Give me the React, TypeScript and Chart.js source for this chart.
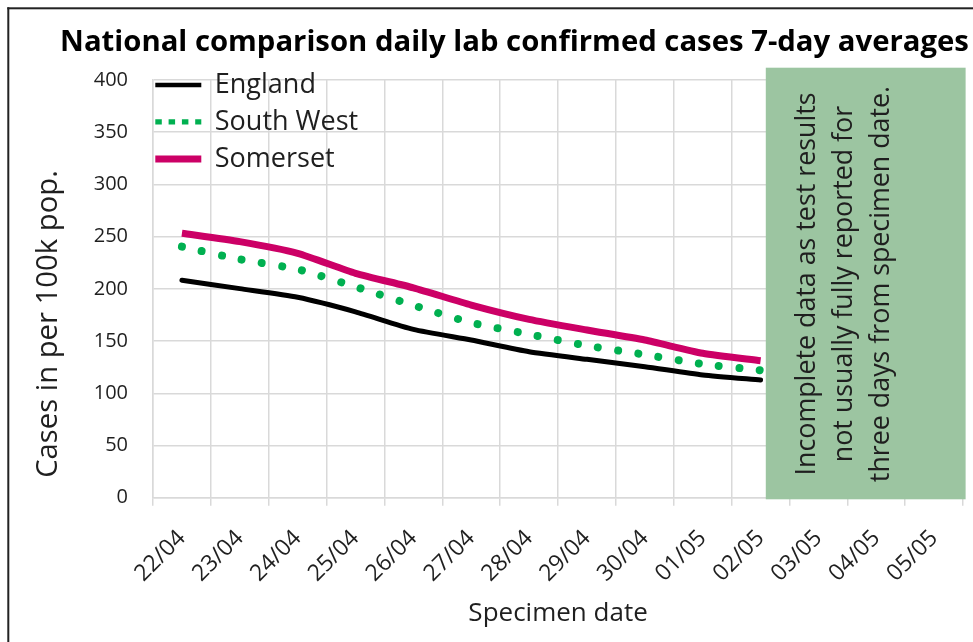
import React, { useEffect, useRef } from 'react';
import { Chart, registerables } from 'chart.js';

Chart.register(...registerables);

const FONT = '"Open Sans", "Noto Sans", sans-serif';

// ---- data ----
const DATES = ['22/04', '23/04', '24/04', '25/04', '26/04', '27/04', '28/04', '29/04', '30/04', '01/05', '02/05', '03/05', '04/05', '05/05'];
const ENGLAND = [208.3, 200.2, 191.9, 178, 161.2, 151, 139.8, 132.5, 125.5, 117.5, 112.7];
const SOUTH_WEST = [240.4, 228.3, 218.7, 202, 184.2, 167.6, 156.5, 145.6, 137, 128, 122];
const SOMERSET = [253.2, 245.2, 234, 214.9, 201, 184.5, 170.8, 160.6, 151, 138.3, 131.2];
const SERIES_NAMES = ['England', 'South West', 'Somerset'];
const Y_MIN = 0;
const Y_MAX = 400;
const Y_STEP = 50;

const TITLE = 'National comparison daily lab confirmed cases 7-day averages';
const Y_TITLE = 'Cases in per 100k pop.';
const X_TITLE = 'Specimen date';
const NOTE_LINES = ['Incomplete data as test results', 'not usually fully reported for', 'three days from specimen date.'];
const NOTE_FROM_INDEX = 10; // shaded note starts just after 02/05

const C_ENGLAND = '#000000';
const C_SW = '#00B050';
const C_SOM = '#CC0066';
const C_GRID = '#D9D9D9';
const C_TEXT = '#1f1f1f';
const C_NOTE = '#9CC5A1';

function fitSize(ctx: CanvasRenderingContext2D, text: string, weight: string, width: number) {
  ctx.font = `${weight} 100px ${FONT}`;
  return (100 * width) / ctx.measureText(text).width;
}

export default function App() {
  const ref = useRef<HTMLCanvasElement>(null);

  useEffect(() => {
    const canvas = ref.current!;
    const decor = {
      id: 'decor',
      afterLayout(chart: any) {
        const lg = chart.legend;
        const ca = chart.chartArea;
        if (!lg) return;
        lg.left = ca.left - 7.7;
        lg.top = ca.top - 18.6;
        lg.right = lg.left + lg.width;
        lg.bottom = lg.top + lg.height;
      },
      beforeDraw(chart: any) {
        const ctx = chart.ctx;
        ctx.save();
        ctx.fillStyle = '#ffffff';
        ctx.fillRect(0, 0, chart.width, chart.height);
        ctx.fillStyle = '#222222';
        ctx.fillRect(7.3, 7.3, 2, chart.height);
        ctx.fillRect(7.3, 7.3, chart.width, 2);
        ctx.restore();
      },
      afterDatasetsDraw(chart: any) {
        const { ctx, chartArea: ca } = chart;
        const x = chart.scales.x;
        const y = chart.scales.y;
        const step = x.getPixelForValue(1) - x.getPixelForValue(0);
        const left = x.getPixelForValue(NOTE_FROM_INDEX) + 0.09 * step;
        const right = ca.right + 2.5;
        const top = y.getPixelForValue(Y_MAX) - 12.3;
        const bottom = ca.bottom + 1.6;
        ctx.save();
        ctx.fillStyle = C_NOTE;
        ctx.fillRect(left, top, right - left, bottom - top);
        const size = fitSize(ctx, NOTE_LINES[0], 'normal', 383);
        ctx.font = `normal ${size}px ${FONT}`;
        ctx.fillStyle = C_TEXT;
        ctx.textAlign = 'center';
        ctx.textBaseline = 'alphabetic';
        const cy = (top + bottom) / 2 + 0.5;
        NOTE_LINES.forEach((t, i) => {
          ctx.save();
          ctx.translate(left + 49 + 37 * i, cy);
          ctx.rotate(-Math.PI / 2);
          ctx.fillText(t, 0, 0);
          ctx.restore();
        });
        ctx.restore();
      },
      afterDraw(chart: any) {
        const ctx = chart.ctx;
        ctx.save();
        ctx.fillStyle = '#000000';
        ctx.textAlign = 'center';
        ctx.textBaseline = 'alphabetic';
        const ts = fitSize(ctx, TITLE, 'bold', 909);
        ctx.font = `bold ${ts}px ${FONT}`;
        ctx.fillText(TITLE, 514.5, 51);
        const ys = fitSize(ctx, Y_TITLE, 'normal', 308);
        ctx.font = `normal ${ys}px ${FONT}`;
        ctx.fillStyle = C_TEXT;
        ctx.translate(57, 324);
        ctx.rotate(-Math.PI / 2);
        ctx.fillText(Y_TITLE, 0, 0);
        ctx.restore();
      },
    };

    const chart = new Chart(canvas, {
      type: 'line',
      data: {
        labels: DATES,
        datasets: [
          {
            label: SERIES_NAMES[0],
            data: ENGLAND,
            borderColor: C_ENGLAND,
            backgroundColor: C_ENGLAND,
            borderWidth: 5,
            pointRadius: 0,
            tension: 0.2,
            borderCapStyle: 'round',
            borderJoinStyle: 'round',
          },
          {
            label: SERIES_NAMES[1],
            data: SOUTH_WEST,
            borderColor: C_SW,
            backgroundColor: C_SW,
            borderWidth: 8,
            borderDash: [0.01, 20.4],
            borderCapStyle: 'round',
            pointRadius: 0,
            tension: 0.2,
          },
          {
            label: SERIES_NAMES[2],
            data: SOMERSET,
            borderColor: C_SOM,
            backgroundColor: C_SOM,
            borderWidth: 7,
            pointRadius: 0,
            tension: 0.2,
            borderCapStyle: 'butt',
            borderJoinStyle: 'round',
          },
        ],
      },
      options: {
        animation: false,
        responsive: false,
        devicePixelRatio: 1,
        layout: { padding: { left: 8, right: 8.5, top: 80, bottom: 0 } },
        scales: {
          x: {
            offset: true,
            grid: { offset: true, color: C_GRID, lineWidth: 1.5, drawTicks: true, tickLength: 8, tickColor: C_GRID },
            border: { color: C_GRID, width: 1.5 },
            ticks: {
              autoSkip: false,
              minRotation: 45,
              maxRotation: 45,
              padding: 19,
              color: C_TEXT,
              font: { family: FONT, size: 23 },
            },
            title: {
              display: true,
              text: X_TITLE,
              color: C_TEXT,
              font: { family: FONT, size: 26 },
              padding: { top: 0, bottom: 12.4 },
            },
            afterFit: (s: any) => {
              s.height = 144.3;
            },
          },
          y: {
            min: Y_MIN,
            max: Y_MAX,
            grid: { color: C_GRID, lineWidth: 1.5, drawTicks: false },
            border: { color: C_GRID, width: 1.5 },
            ticks: {
              stepSize: Y_STEP,
              padding: 25,
              color: C_TEXT,
              font: { family: FONT, size: 20 },
            },
            afterFit: (s: any) => {
              s.width = 145;
            },
          },
        },
        plugins: {
          title: { display: false },
          tooltip: { enabled: false },
          legend: {
            position: 'chartArea',
            align: 'start',
            labels: {
              usePointStyle: true,
              pointStyle: 'line',
              pointStyleWidth: 46,
              boxWidth: 46,
              boxHeight: 27,
              padding: 10,
              color: C_TEXT,
              font: { family: FONT, size: 27 },
              generateLabels: (c: any) => {
                const items = (Chart.defaults.plugins.legend.labels as any).generateLabels(c);
                return items.map((it: any, i: number) => ({
                  ...it,
                  lineCap: 'butt',
                  lineDash: i === 1 ? [6.5, 6.8] : [],
                  lineWidth: i === 0 ? 4.5 : i === 1 ? 5.3 : 7,
                }));
              },
            },
          },
        },
      } as any,
      plugins: [decor],
    });

    return () => chart.destroy();
  }, []);

  return (
    <div style={{ position: 'fixed', left: 0, top: 0, width: 973, height: 642, overflow: 'hidden', background: '#fff' }}>
      <canvas ref={ref} width={973} height={642} style={{ display: 'block', width: 973, height: 642 }} />
    </div>
  );
}
